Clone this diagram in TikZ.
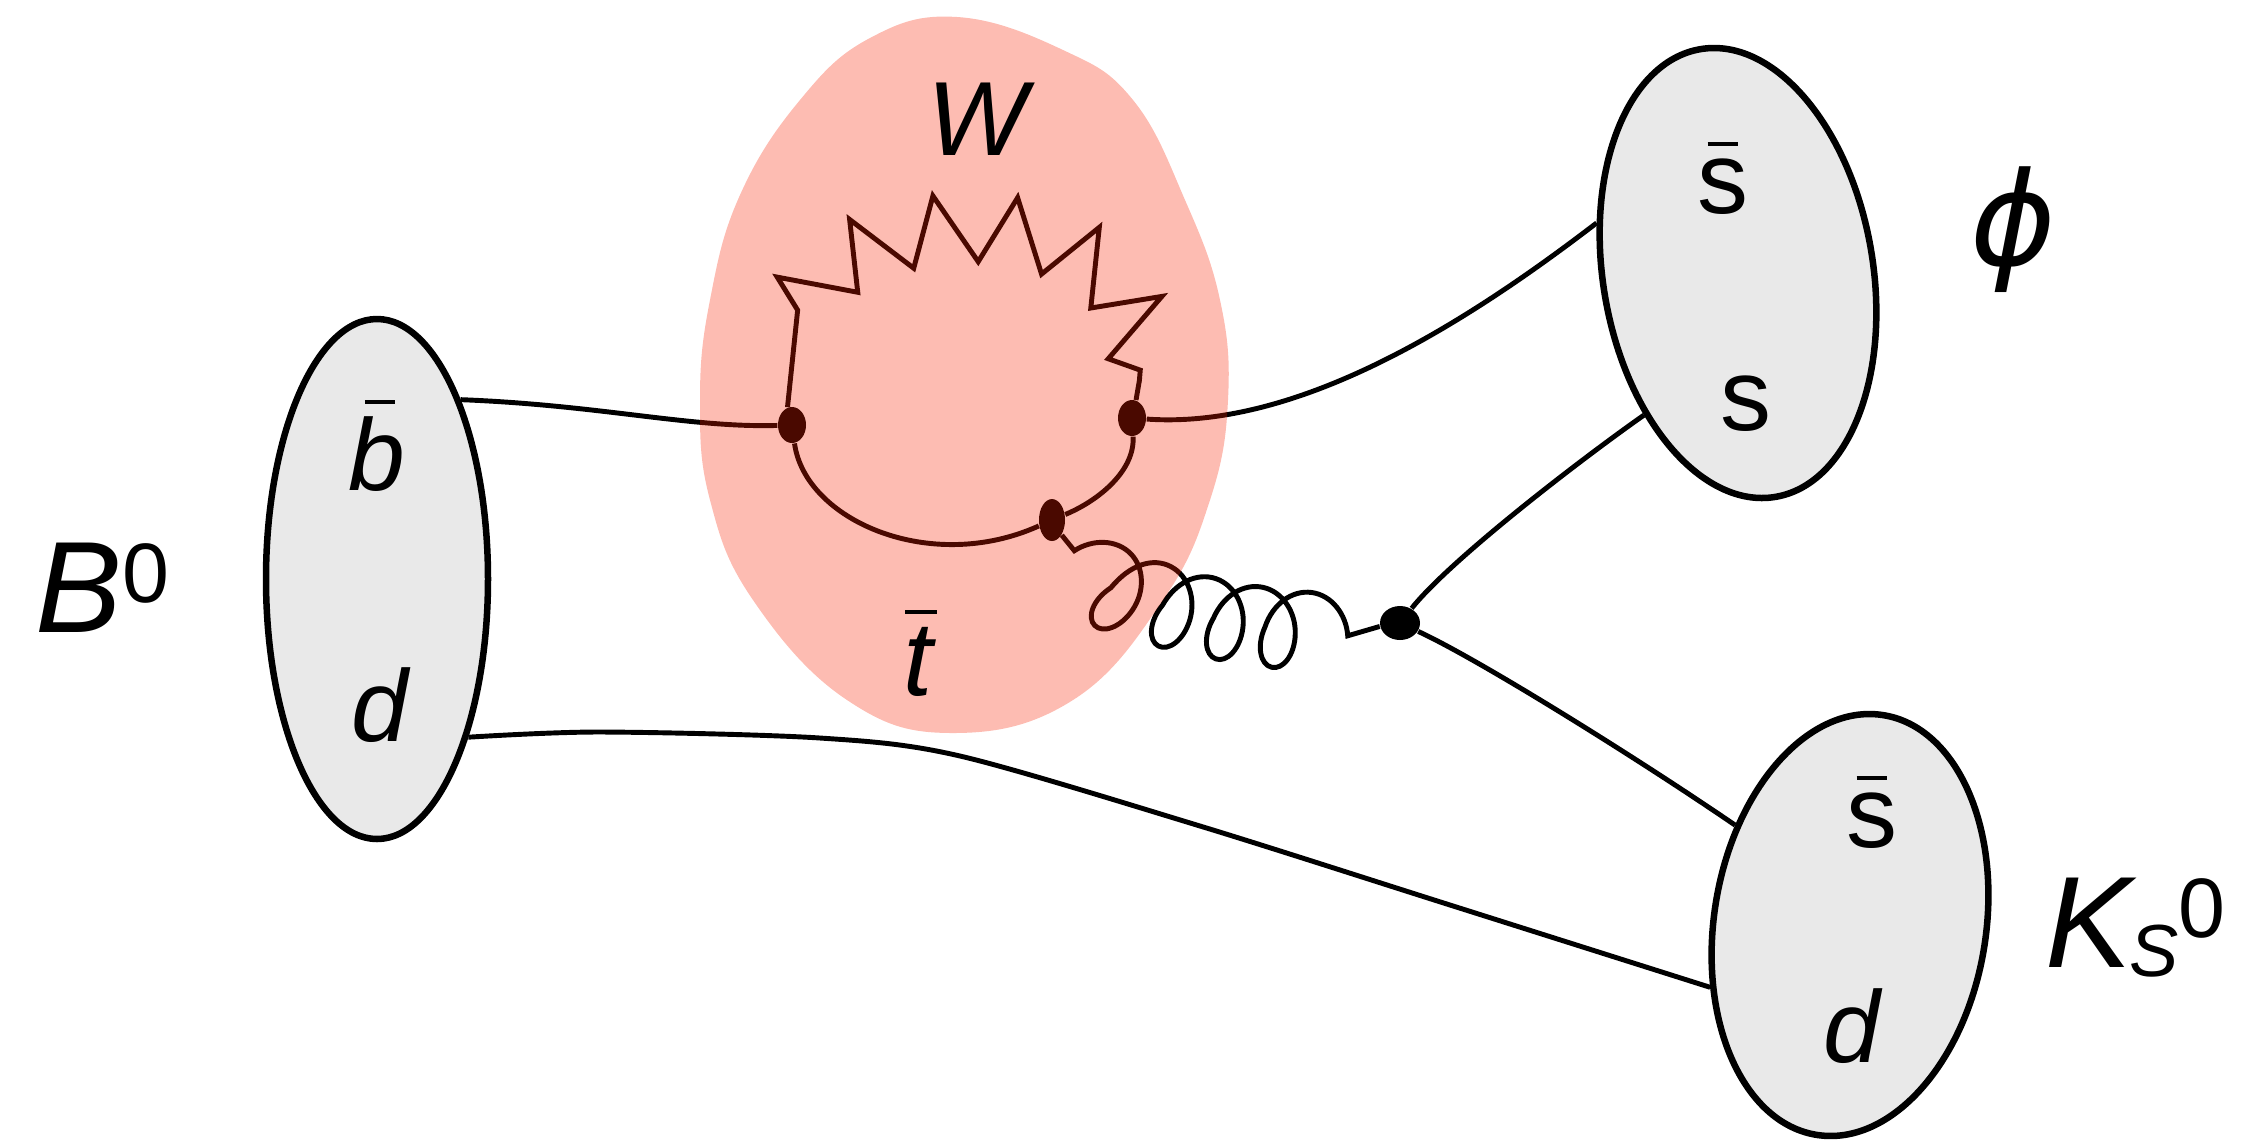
\documentclass[tikz,border=0pt]{standalone}
\usepackage{fontspec}
\setmainfont{Liberation Sans}
\newfontfamily{\phifont}{DejaVu Sans}
\usetikzlibrary{shapes.geometric}
\usetikzlibrary{decorations.pathmorphing}

\definecolor{mesongray}{RGB}{233,233,233}
\definecolor{loopred}{RGB}{247,33,0}

\newcommand{\bigsize}{\fontsize{37}{40}\selectfont}
\newcommand{\midsize}{\fontsize{30}{33}\selectfont}
\newcommand{\qsize}{\fontsize{29}{32}\selectfont}
\newcommand{\supzero}{\raisebox{8.5pt}{\fontsize{24}{26}\selectfont 0}}
% letter with a bar on top (antiquark)
\newcommand{\antiq}[2][0em]{\setbox0\hbox{#2}\vbox{\offinterlineskip
    \hbox to \wd0{\hss\kern#1\rule{0.3em}{0.04em}\hss}\kern0.12em\box0}}

\tikzset{
    meson/.style = {ellipse, draw, fill = mesongray, line width = 1.85pt, inner sep = 0pt},
    vtx/.style = {ellipse, fill, inner sep = 0pt, minimum width = 0.28cm, minimum height = 0.36cm},
    quark/.style = {line width = 1.4pt},
    photon/.style = {quark, decorate, decoration = {zigzag, segment length = 0.75cm, amplitude = 0.34cm, pre length = 1cm, post length = 0.2cm}},
    gluon/.style = {quark, decorate, decoration = {coil, aspect = 0.75, segment length = 0.52cm, amplitude = 0.38cm, pre length = 0.2cm, post length = 0cm}},
    lab/.style = {inner sep = 0pt}
}

\begin{document}
\begin{tikzpicture}[x = 0.1mm, y = -0.1mm] % B -> phi K penguin
    \useasboundingbox (0, 0) rectangle (2249, 1141);

    % Mesons
    \node[meson, minimum width = 2.22cm, minimum height = 5.2cm] (Bm) at (377, 579) {};
    \node[meson, minimum width = 2.7cm, minimum height = 4.54cm, rotate = 9.5] (Phim) at (1738, 273) {};
    \node[meson, minimum width = 2.72cm, minimum height = 4.25cm, rotate = -9] (Km) at (1850, 925) {};

    % Vertices
    \node[vtx] (v1) at (792, 425) {};
    \node[vtx] (v2) at (1132, 418) {};
    \node[vtx, minimum width = 0.26cm, minimum height = 0.42cm] (v3) at (1052, 520) {};
    \node[vtx, minimum width = 0.4cm, minimum height = 0.34cm] (v4) at (1400, 623) {};

    % Quark lines
    \draw[quark] (Bm.65) .. controls (600, 405) and (690, 428) .. (v1);
    \draw[quark] (v1) .. controls (805, 520) and (930, 575) .. (v3) .. controls (1100, 500) and (1135, 470) .. (v2);
    \draw[quark] (v2) .. controls (1300, 430) and (1470, 320) .. (Phim.151.6);
    \draw[quark] (Phim.227.8) .. controls (1580, 460) and (1450, 560) .. (v4);
    \draw[quark] (v4) .. controls (1480, 660) and (1640, 760) .. (Km.148);
    \draw[quark] plot[smooth, tension = 0.5] coordinates {(Bm.-60) (600, 732) (820, 738) (960, 756) (1200, 826)
        (1450, 905) (Km.213)};

    % W and gluon
    \draw[photon] (v1) .. controls (730, 180) and (1190, 160) .. (v2);
    \draw[gluon] (v3) .. controls (1110, 610) and (1300, 640) .. (v4);

    % Loop region
    \fill[loopred, opacity = 0.3] plot[smooth cycle, tension = 0.7] coordinates {(957, 17) (1063, 50) (1133, 100) (1185, 200)
        (1220, 300) (1228, 400) (1210, 500) (1163, 600) (1073, 700) (953, 733) (847, 700) (753, 600) (710, 500)
        (700, 400) (710, 300) (740, 195) (800, 100) (870, 38)};

    % Labels
    \node[lab, font = \bigsize, anchor = base west] (Blab) at (35, 632) {\textit{B}\supzero};
    \node[lab, font = \bigsize] (philab) at (2013, 230) {\phifont\itshape ϕ};
    \node[lab, font = \bigsize, anchor = base west] (Klab) at (2045, 967)
        {\textit{K}\kern-0.06em\raisebox{-2.8pt}{\fontsize{21}{23}\selectfont\itshape S}\supzero};
    \node[lab, font = \midsize, anchor = base] (Wlab) at (981, 155) {\textit{W}};
    \node[lab, font = \midsize, anchor = base] (tlab) at (918, 695) {\antiq[0.06em]{\itshape t}};

    \node[lab, font = \qsize, anchor = base] (bq) at (377, 490) {\antiq[0.06em]{\itshape b}};
    \node[lab, font = \qsize, anchor = base] (dq) at (381, 741) {\textit{d}};
    \node[lab, font = \qsize, anchor = base] (sbarphi) at (1723, 213) {\antiq{s}};
    \node[lab, font = \qsize, anchor = base] (sphi) at (1746, 430) {s};
    \node[lab, font = \qsize, anchor = base] (sbarK) at (1872, 847) {\antiq{s}};
    \node[lab, font = \qsize, anchor = base] (dK) at (1853, 1062) {\textit{d}};
\end{tikzpicture}
\end{document}
